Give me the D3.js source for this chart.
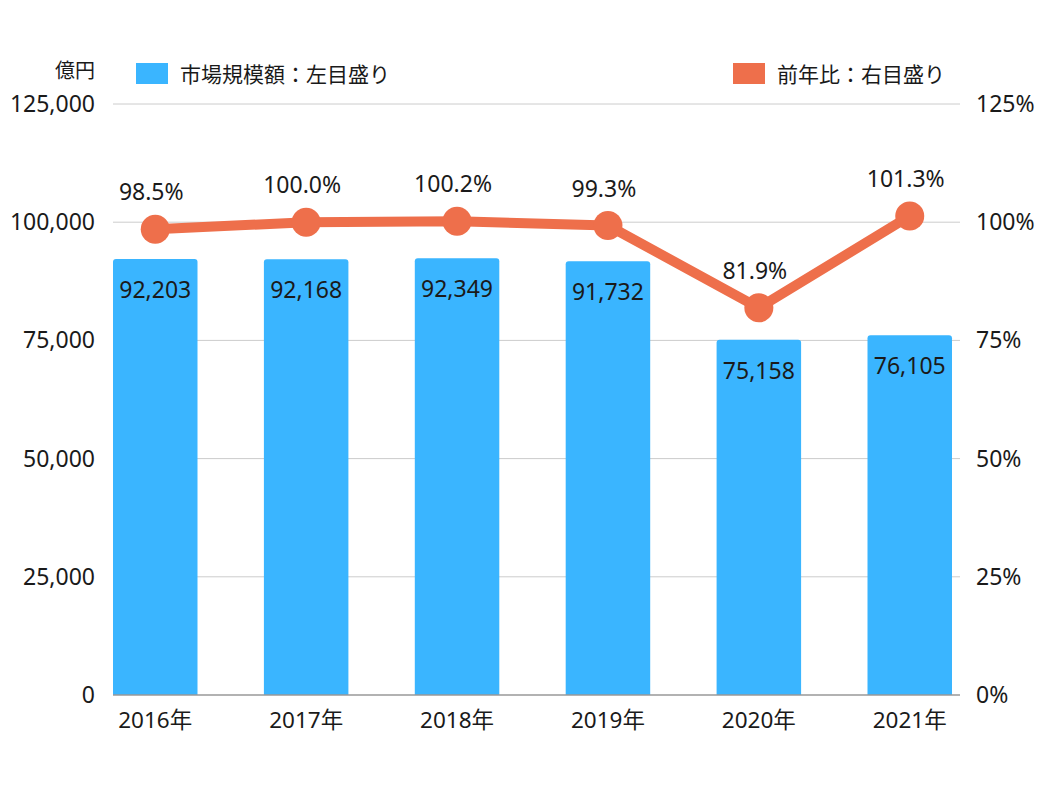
<!DOCTYPE html>
<html>
<head>
<meta charset="utf-8">
<script src="https://cdn.jsdelivr.net/npm/d3@7/dist/d3.min.js"></script>
<style>
	body { margin: 0; background: #fff; }
	svg text { font-family: "Noto Sans", "Noto Sans CJK JP", sans-serif; fill: #1a1a1a; }
</style>
</head>
<body>
<svg id="canvas" width="1052" height="789"></svg>
<script>
// data
var years = ["2016年", "2017年", "2018年", "2019年", "2020年", "2021年"];
var marketSize = [92203, 92168, 92349, 91732, 75158, 76105];
var yoyRatio = [98.5, 100.0, 100.2, 99.3, 81.9, 101.3];
var leftTicks = [0, 25000, 50000, 75000, 100000, 125000];
var rightTicks = [0, 25, 50, 75, 100, 125];

const blue = "#3AB5FF";
const orange = "#EE6F4B";

const svg = d3.select("#canvas");
const plotLeft = 113, plotRight = 960, plotTop = 104, plotBottom = 695;

const x = d3.scaleBand().domain(years).range([plotLeft, 952]).paddingInner(0.44).paddingOuter(0);
const yL = d3.scaleLinear().domain([0, 125000]).range([plotBottom, plotTop]);
const yR = d3.scaleLinear().domain([0, 125]).range([plotBottom, plotTop]);

// gridlines
svg.append("g")
	.selectAll()
	.data(leftTicks.slice(1))
	.join("line")
	.attr("x1", plotLeft).attr("x2", plotRight)
	.attr("y1", d => yL(d)).attr("y2", d => yL(d))
	.attr("stroke", "#cccccc").attr("stroke-width", 1);

// left axis labels
svg.append("g")
	.selectAll()
	.data(leftTicks)
	.join("text")
	.attr("x", 95)
	.attr("y", d => yL(d) + 8)
	.attr("text-anchor", "end")
	.attr("font-size", 23)
	.text(d => d3.format(",")(d));

svg.append("text")
	.attr("x", 95).attr("y", 78)
	.attr("text-anchor", "end")
	.attr("font-size", 20)
	.text("億円");

// right axis labels
svg.append("g")
	.selectAll()
	.data(rightTicks)
	.join("text")
	.attr("x", 976)
	.attr("y", d => yR(d) + 8)
	.attr("font-size", 23)
	.text(d => d + "%");

// bars
const bars = years.map((y, i) => ({ year: y, value: marketSize[i] }));
svg.append("g")
	.selectAll()
	.data(bars)
	.join("path")
	.attr("fill", blue)
	.attr("d", d => {
		const x0 = x(d.year), w = x.bandwidth(), y0 = yL(d.value), r = 3;
		return `M${x0},${plotBottom}V${y0 + r}Q${x0},${y0} ${x0 + r},${y0}H${x0 + w - r}Q${x0 + w},${y0} ${x0 + w},${y0 + r}V${plotBottom}Z`;
	});

// bar value labels
svg.append("g")
	.selectAll()
	.data(bars)
	.join("text")
	.attr("x", d => x(d.year) + x.bandwidth() / 2)
	.attr("y", d => yL(d.value) + 39)
	.attr("text-anchor", "middle")
	.attr("font-size", 23)
	.text(d => d3.format(",")(d.value));

// x axis line
svg.append("line")
	.attr("x1", plotLeft).attr("x2", plotRight)
	.attr("y1", plotBottom).attr("y2", plotBottom)
	.attr("stroke", "#999999").attr("stroke-width", 1.5);

// x labels
svg.append("g")
	.selectAll()
	.data(years)
	.join("text")
	.attr("x", d => x(d) + x.bandwidth() / 2)
	.attr("y", 728)
	.attr("text-anchor", "middle")
	.attr("font-size", 22.5)
	.text(d => d);

// line
const points = years.map((y, i) => ({ year: y, value: yoyRatio[i] }));
const line = d3.line()
	.x(d => x(d.year) + x.bandwidth() / 2)
	.y(d => yR(d.value));

svg.append("path")
	.datum(points)
	.attr("d", line)
	.attr("fill", "none")
	.attr("stroke", orange)
	.attr("stroke-width", 10)
	.attr("stroke-linejoin", "round");

svg.append("g")
	.selectAll()
	.data(points)
	.join("circle")
	.attr("cx", d => x(d.year) + x.bandwidth() / 2)
	.attr("cy", d => yR(d.value))
	.attr("r", 14.5)
	.attr("fill", orange);

svg.append("g")
	.selectAll()
	.data(points)
	.join("text")
	.attr("x", d => x(d.year) + x.bandwidth() / 2 - 4)
	.attr("y", d => yR(d.value) - 29)
	.attr("text-anchor", "middle")
	.attr("font-size", 23)
	.text(d => d.value.toFixed(1) + "%");

// legend
const legend = [
	{ label: "市場規模額：左目盛り", color: blue, x: 136 },
	{ label: "前年比：右目盛り", color: orange, x: 733 }
];
const lg = svg.append("g")
	.selectAll()
	.data(legend)
	.join("g")
	.attr("transform", d => `translate(${d.x},63)`);
lg.append("rect")
	.attr("width", 32).attr("height", 21)
	.attr("fill", d => d.color);
lg.append("text")
	.attr("x", 44).attr("y", 19)
	.attr("font-size", 21)
	.text(d => d.label);
</script>
</body>
</html>
